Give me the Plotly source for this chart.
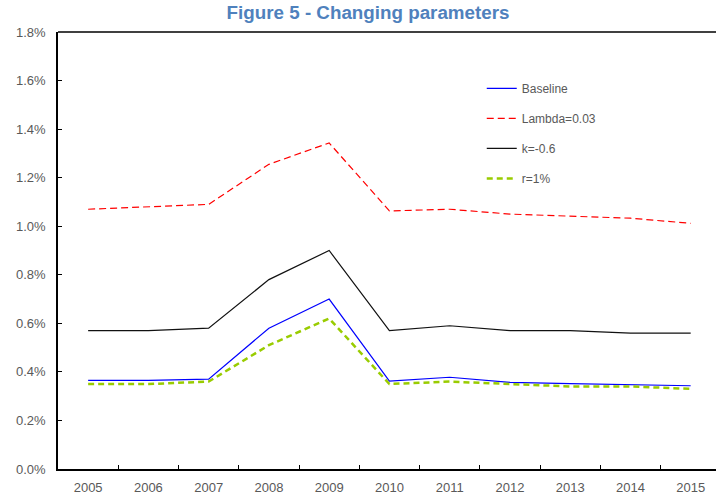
import plotly.graph_objects as go

years = ['2005', '2006', '2007', '2008', '2009', '2010', '2011', '2012', '2013', '2014', '2015']

# values as fractions (0.01 = 1%)
baseline = [0.00365, 0.00365, 0.0037, 0.0058, 0.0070, 0.00362, 0.00378, 0.00357, 0.00352, 0.00347, 0.00343]
lambda_003 = [0.0107, 0.0108, 0.0109, 0.01255, 0.01343, 0.01063, 0.0107, 0.0105, 0.0104, 0.01033, 0.01012]
k_neg06 = [0.0057, 0.0057, 0.0058, 0.0078, 0.0090, 0.0057, 0.0059, 0.0057, 0.0057, 0.0056, 0.0056]
r_1pct = [0.0035, 0.0035, 0.0036, 0.0051, 0.0062, 0.0035, 0.0036, 0.0035, 0.0034, 0.0034, 0.0033]

fig = go.Figure()
fig.add_trace(go.Scatter(x=years, y=baseline, mode='lines', name='Baseline',
                         line=dict(color='#0000FF', width=1.2), legendgroup='a'))
fig.add_trace(go.Scatter(x=years, y=lambda_003, mode='lines', name='Lambda=0.03',
                         line=dict(color='#FF0000', width=1.2, dash='7px,4px'), legendgroup='b'))
fig.add_trace(go.Scatter(x=years, y=k_neg06, mode='lines', name='k=-0.6',
                         line=dict(color='#111111', width=1.2), legendgroup='c'))
fig.add_trace(go.Scatter(x=years, y=r_1pct, mode='lines', name='r=1%',
                         line=dict(color='#99CC00', width=2.5, dash='6px,4px'), legendgroup='d'))

fig.update_layout(
    width=716, height=497,
    margin=dict(l=58, r=0, t=32, b=28),
    paper_bgcolor='white', plot_bgcolor='white',
    font=dict(family='Liberation Sans, Arial', size=13, color='#595959'),
    title=dict(text='<b>Figure 5 - Changing parameters</b>', x=0.514, xanchor='center',
               y=0.976, yanchor='middle',
               font=dict(family='Liberation Sans, Arial', size=18.8, color='#4F81BD')),
    showlegend=True,
    legend=dict(x=0.644, y=0.904, xanchor='left', yanchor='top', traceorder='grouped',
                tracegroupgap=11, bgcolor='rgba(0,0,0,0)',
                font=dict(family='Liberation Sans, Arial', size=12, color='#595959')),
)
fig.update_xaxes(type='category', range=[-0.5, 10.42], showline=True, linecolor='black',
                 linewidth=1.5, ticks='inside', ticklen=4, tickcolor='black',
                 tickson='boundaries', showgrid=False, zeroline=False, automargin=False,
                 ticklabelstandoff=6)
fig.update_yaxes(range=[0, 0.018], dtick=0.002, tickformat='.1%', showline=True,
                 linecolor='black', linewidth=1.5, ticks='inside', ticklen=4,
                 tickcolor='black', showgrid=False, zeroline=False, automargin=False,
                 ticklabelstandoff=8)
fig.add_shape(type='line', xref='paper', yref='paper', x0=0, x1=1, y0=1, y1=1,
              line=dict(color='black', width=1.5))

# drop the default 8px page margin so the figure fills the window
fig.write_html('out.html', config={'displayModeBar': False},
               post_script="document.body.style.margin='0px';")
